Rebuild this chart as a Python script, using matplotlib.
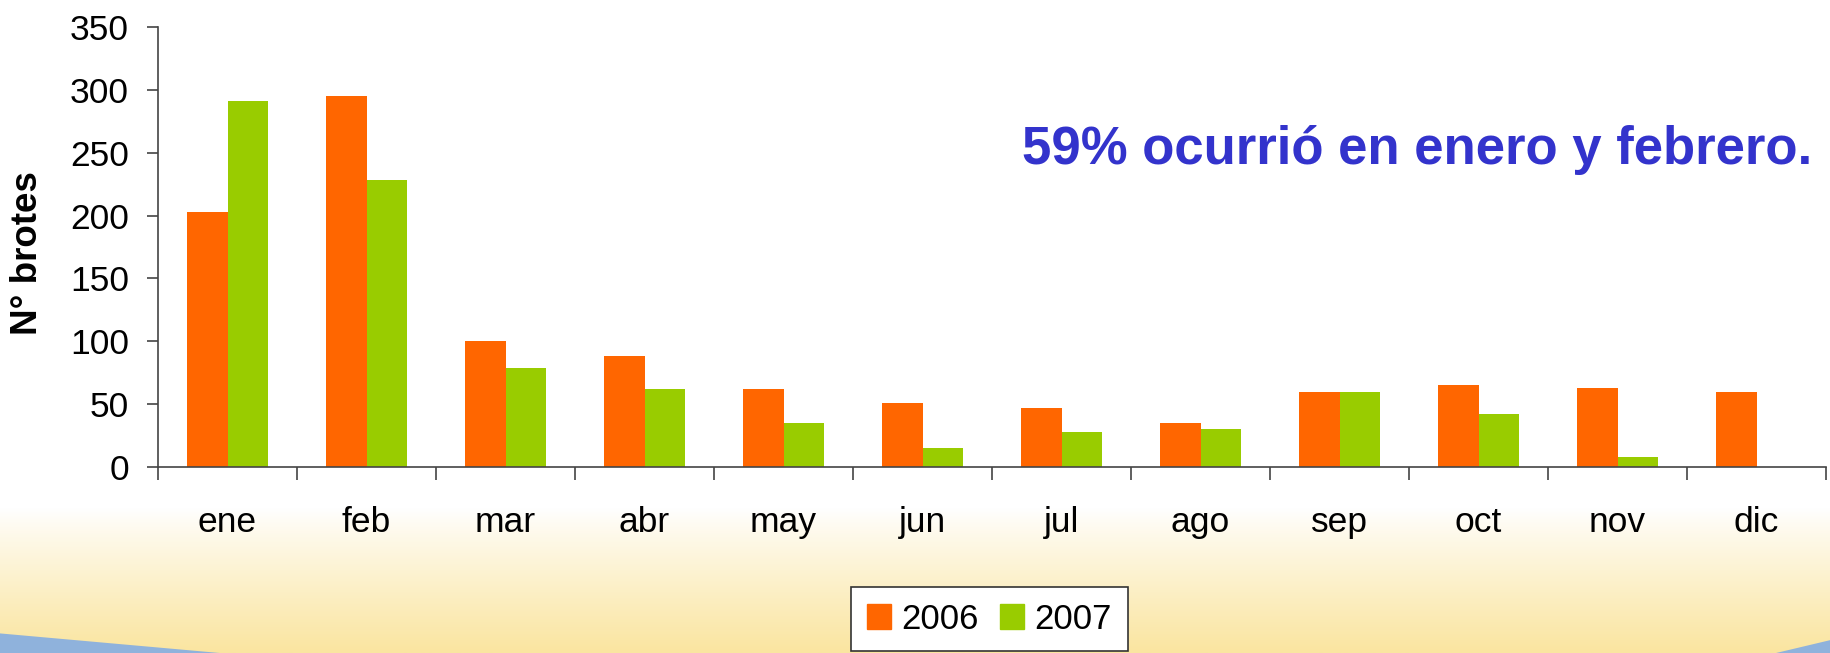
import numpy as np
import matplotlib.pyplot as plt
from matplotlib.patches import Patch, Polygon

plt.rcParams['font.family'] = ['Liberation Sans', 'DejaVu Sans']

# --- datos ---
months = ['ene', 'feb', 'mar', 'abr', 'may', 'jun', 'jul', 'ago', 'sep', 'oct', 'nov', 'dic']
brotes_2006 = [203, 295, 100, 88, 62, 51, 47, 35, 60, 65, 63, 60]
brotes_2007 = [291, 228, 79, 62, 35, 15, 28, 30, 60, 42, 8, 0]
y_ticks = [0, 50, 100, 150, 200, 250, 300, 350]

c2006 = '#FF6600'
c2007 = '#99CC00'

fig = plt.figure(figsize=(18.31, 6.53), dpi=100)

# fondo: blanco arriba, degradado amarillo abajo
bg = fig.add_axes([0, 0, 1, 1], zorder=-10)
bg.set_xlim(0, 1)
bg.set_ylim(0, 1)
bg.axis('off')
t = np.linspace(0, 1, 300)[:, None]
top = np.array([1.0, 1.0, 1.0])
bot = np.array([250, 229, 160]) / 255
w = np.clip((0.22 - t) / 0.22, 0, 1) ** 0.9
grad = top + (bot - top) * w[..., None]
grad = np.repeat(grad, 2, axis=1)
bg.imshow(grad, extent=[0, 1, 0, 1], origin='lower', aspect='auto')
bg.add_patch(Polygon([[0, 0], [0, 0.03], [0.04, 0.02], [0.12, 0.0]], closed=True,
                     color='#8FB2DC', lw=0))
bg.add_patch(Polygon([[1, 0], [1, 0.02], [0.97, 0.0]], closed=True, color='#8FB2DC', lw=0))

ax = fig.add_axes([0.0863, 0.2849, 0.9110, 0.6738])
ax.patch.set_alpha(0)

x = np.arange(len(months))
bw = 0.29
ax.bar(x - bw / 2, brotes_2006, bw, color=c2006, label='2006')
ax.bar(x + bw / 2, brotes_2007, bw, color=c2007, label='2007')

ax.set_xlim(-0.5, len(months) - 0.5)
ax.set_ylim(0, 350)
ax.set_yticks(y_ticks)
ax.tick_params(axis='y', labelsize=25.5, length=8, width=1.2, pad=13, color='#444444')

# ticks en los limites de cada mes, etiquetas al centro
ax.set_xticks(np.arange(len(months) + 1) - 0.5)
ax.set_xticklabels([])
ax.set_xticks(x, minor=True)
ax.set_xticklabels(months, minor=True)
ax.tick_params(axis='x', which='major', length=9.5, width=1.2, color='#444444')
ax.tick_params(axis='x', which='minor', length=0, labelsize=25.5, pad=28)

for s in ['top', 'right']:
    ax.spines[s].set_visible(False)
for s in ['left', 'bottom']:
    ax.spines[s].set_color('#444444')
    ax.spines[s].set_linewidth(1.2)

fig.text(28 / 1831, 1 - 253 / 653, 'N° brotes', rotation=90, ha='center', va='center',
         fontsize=26.5, fontweight='bold')

fig.text(1022 / 1831, 1 - 150 / 653, '59% ocurrió en enero y febrero.', ha='left', va='center',
         fontsize=38, fontweight='bold', color='#3333CC')

handles = [Patch(color=c2006), Patch(color=c2007)]
leg = fig.legend(handles, ['2006', '2007'], loc='upper center', bbox_to_anchor=(0.5404, 0.101),
                 borderaxespad=0, ncol=2, fontsize=25, frameon=True, fancybox=False,
                 handlelength=0.7, handleheight=0.7, handletextpad=0.3, columnspacing=0.6,
                 borderpad=0.45)
leg.get_frame().set_edgecolor('#333333')
leg.get_frame().set_linewidth(1.2)
leg.get_frame().set_facecolor('white')
leg.get_frame().set_alpha(1)

fig.savefig('out.png', dpi=100)
